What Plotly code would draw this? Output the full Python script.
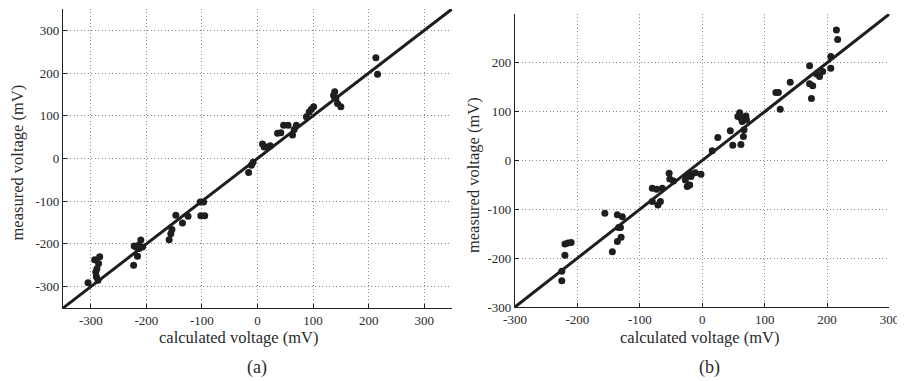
import plotly.graph_objects as go

# Panel (a): calculated vs measured voltage (mV)
a_calc = [-305, -293, -290, -291, -284, -286, -289, -287,
          -223, -222, -216, -214, -210, -207, -213, -218,
          -159, -156, -154, -147, -135, -125, -103, -97, -102, -95,
          -16, -11, -8, 9, 12, 18, 23, 36, 42, 47, 55, 63, 66, 70,
          88, 93, 97, 101, 138, 139, 141, 144, 150, 137, 213, 216]
a_meas = [-291, -237, -277, -266, -230, -246, -258, -285,
          -250, -205, -229, -203, -191, -207, -211, -208,
          -190, -176, -166, -133, -151, -135, -102, -102, -134, -134,
          -33, -16, -9, 34, 27, 27, 30, 59, 60, 78, 78, 55, 68, 78,
          98, 109, 115, 121, 145, 156, 141, 129, 121, 148, 236, 197]

# Panel (b)
b_calc = [-225, -225, -220, -220, -215, -210, -156, -144, -136, -136, -134, -131, -130, -128,
          -80, -80, -73, -71, -67, -64, -53, -52, -46, -27, -25, -24, -20, -20, -18, -11, -2,
          16, 25, 45, 49, 57, 60, 62, 62, 64, 66, 67, 70, 71,
          118, 122, 125, 141, 172, 172, 175, 177, 183, 188, 193, 206, 206, 215, 217]
b_meas = [-227, -246, -194, -171, -169, -168, -108, -187, -111, -166, -137, -137, -157, -115,
          -57, -84, -59, -91, -84, -57, -26, -38, -42, -40, -31, -53, -26, -50, -33, -25, -28,
          20, 47, 61, 31, 90, 98, 87, 33, 80, 49, 63, 91, 83,
          139, 139, 105, 160, 194, 157, 127, 153, 177, 172, 182, 213, 189, 267, 248]

a_line = [-350, 350]
b_line = [-300, 300]
a_ticks = [-300, -200, -100, 0, 100, 200, 300]
b_ticks = [-300, -200, -100, 0, 100, 200, 300]
tick_text = ["-300", "-200", "-100", "0", "100", "200", "300"]

FONT = "Liberation Serif"
INK = "#1e1e1e"
TXT = "#2a2a2a"

fig = go.Figure()
fig.add_trace(go.Scatter(x=a_line, y=a_line, mode="lines", line=dict(color=INK, width=3),
                         xaxis="x", yaxis="y", showlegend=False))
fig.add_trace(go.Scatter(x=a_calc, y=a_meas, mode="markers",
                         marker=dict(color=INK, size=7), xaxis="x", yaxis="y", showlegend=False))
fig.add_trace(go.Scatter(x=b_line, y=b_line, mode="lines", line=dict(color=INK, width=3),
                         xaxis="x2", yaxis="y2", showlegend=False))
fig.add_trace(go.Scatter(x=b_calc, y=b_meas, mode="markers",
                         marker=dict(color=INK, size=7), xaxis="x2", yaxis="y2", showlegend=False))

def ax(rng, dom, anchor, ticks):
    return dict(range=rng, domain=dom, anchor=anchor, tickvals=ticks, ticktext=tick_text,
                automargin=False,
                showline=True, linecolor="#222", linewidth=1.2, mirror=False,
                ticks="inside", ticklen=4, tickcolor="#222",
                showgrid=True, gridcolor="#8a8a8a", griddash="1px,2.5px", gridwidth=1,
                zeroline=False, tickfont=dict(family=FONT, size=13, color=TXT))

fig.update_layout(
    template="none",
    width=905, height=381, margin=dict(l=0, r=0, t=0, b=0, autoexpand=False),
    paper_bgcolor="white", plot_bgcolor="white",
    xaxis=ax([-350, 350], [0.0608, 0.4906], "y", a_ticks),
    yaxis=ax([-350, 350], [0.2126, 0.9974], "x", a_ticks),
    xaxis2=ax([-300, 300], [0.5602, 0.9740], "y2", b_ticks),
    yaxis2=ax([-300, 300], [0.2152, 0.9843], "x2", b_ticks),
)

ann = [
    dict(text="calculated voltage (mV)", x=0.2552, y=0.1339, size=16.5, angle=0),
    dict(text="measured voltage (mV)", x=0.0105, y=0.5932, size=16.5, angle=-90),
    dict(text="(a)", x=0.2751, y=0.0577, size=18, angle=0),
    dict(text="calculated voltage (mV)", x=0.7640, y=0.1339, size=16.5, angle=0),
    dict(text="measured voltage (mV)", x=0.5150, y=0.5617, size=16.5, angle=-90),
    dict(text="(b)", x=0.7750, y=0.0577, size=18, angle=0),
]
for a in ann:
    fig.add_annotation(text=a["text"], x=a["x"], y=a["y"], xref="paper", yref="paper",
                       xanchor="center", yanchor="middle", showarrow=False, textangle=a["angle"],
                       font=dict(family=FONT, size=a["size"], color=TXT))

fig.write_html("out.html")
